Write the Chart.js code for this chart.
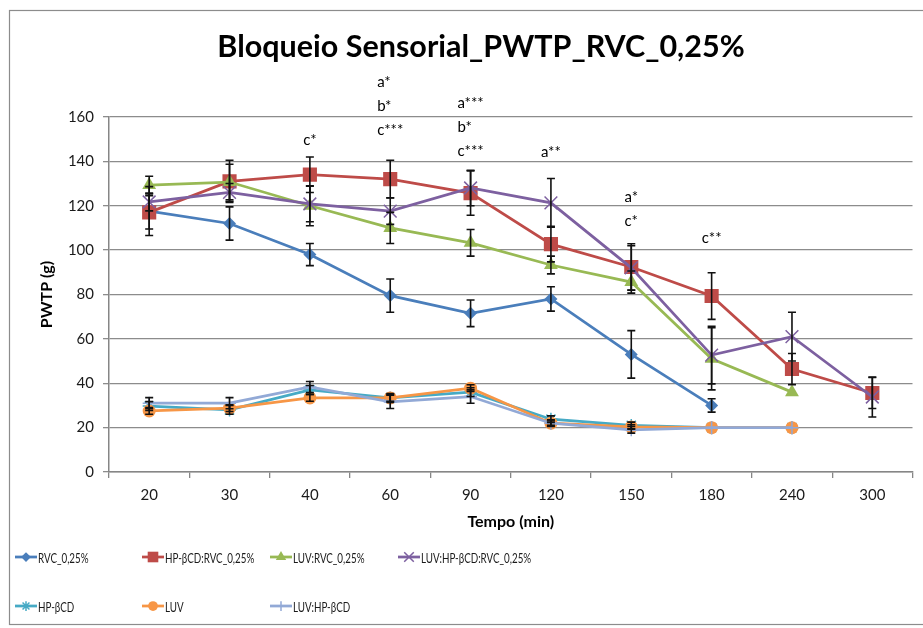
<!DOCTYPE html>
<html lang="pt">
<head>
<meta charset="UTF-8">
<title>Bloqueio Sensorial_PWTP_RVC_0,25%</title>
<script src="https://cdn.jsdelivr.net/npm/chart.js"></script>
<style>
  body { margin: 0; background: #fff; }
  #wrap { width: 923px; height: 628px; }
</style>
</head>
<body>
<div id="wrap"><canvas id="pwtpChart" width="923" height="628"></canvas></div>
<script>
    // categories (tempo, min)
    const tempos = ['20', '30', '40', '60', '90', '120', '150', '180', '240', '300'];

    // series names, in legend order
    const seriesNames = ['RVC_0,25%', 'HP-βCD:RVC_0,25%', 'LUV:RVC_0,25%', 'LUV:HP-βCD:RVC_0,25%', 'HP-βCD', 'LUV', 'LUV:HP-βCD'];

    // PWTP (g) means
    const rvc        = [117.6, 112, 98, 79.5, 71.5, 78, 53, 30, null, null];
    const hpRvc      = [117, 131, 134, 132, 125.7, 102.7, 92.4, 79.3, 46.4, 35.6];
    const luvRvc     = [129.3, 130.7, 120, 110, 103.3, 93.3, 85.6, 51, 36, null];
    const luvHpRvc   = [121.7, 126, 120.8, 117.6, 128, 121.3, 92, 52.7, 61, 33.8];
    const hp         = [29.7, 28, 37, 33.4, 36, 23.8, 21, 20, 20, null];
    const luv        = [27.5, 28.8, 33.4, 33.4, 37.8, 22, 20.3, 20, 20, null];
    const luvHp      = [31, 31, 38.3, 31.6, 34, 22, 19, 20, 20, null];

    // error bars (+/-)
    const rvcErr      = [11, 7.5, 5, 7.5, 6, 5.5, 10.7, 3, null, null];
    const hpRvcErr    = [7.5, 9.5, 8, 8.5, 10, 8, 10.5, 10.5, 7, 7];
    const luvRvcErr   = [4, 8, 9, 7, 6, 4, 5, 14, 0, null];
    const luvHpRvcErr = [4, 4, 8, 6, 8, 11, 10, 13, 11, 9];
    const hpErr       = [2, 2, 2, 2, 2, 1.5, 1.5, 0, 0, null];
    const luvErr      = [1.5, 1.5, 1.5, 1.5, 1.5, 1, 1, 0, 0, null];
    const luvHpErr    = [2.5, 2.5, 2.5, 3, 3, 1.5, 1.5, 0, 0, null];

    // significance labels above the points
    const annotCats  = ['40', '60', '90', '120', '150', '180'];
    const annotLines = [['c*'], ['a*', 'b*', 'c***'], ['a***', 'b*', 'c***'], ['a**'], ['a*', 'c*'], ['c**']];
    const annotBase  = [149.6, 154, 144.7, 144.2, 113, 105.5];

    // y axis ticks
    const yMin = 0, yMax = 160, yStep = 20;

    const values = [rvc, hpRvc, luvRvc, luvHpRvc, hp, luv, luvHp];
    const errors = [rvcErr, hpRvcErr, luvRvcErr, luvHpRvcErr, hpErr, luvErr, luvHpErr];

    const colors  = ['#4A7EBB', '#BE4B48', '#98B954', '#7D60A0', '#46AAC5', '#F79646', '#92A9D6'];
    const markers = ['rectRot', 'rect', 'triangle', 'crossRot', 'star', 'circle', 'cross'];
    const radii   = [6.5, 10, 8, 9, 6.5, 6.5, 6.5];

    const FONT = 'Lato, "Open Sans", sans-serif';
    Chart.defaults.font.family = FONT;
    Chart.defaults.color = '#1a1a1a';

    const datasets = seriesNames.map((name, i) => {
        const hollow = ['crossRot', 'star', 'cross'].includes(markers[i]);
        return {
            label: name,
            data: values[i],
            borderColor: colors[i],
            backgroundColor: colors[i],
            borderWidth: 2.75,
            pointStyle: markers[i],
            pointRadius: radii[i],
            pointBorderWidth: hollow ? 1.5 : 0,
            pointBackgroundColor: colors[i],
            pointBorderColor: colors[i],
            tension: 0,
            spanGaps: false,
            order: -i
        };
    });

    const extras = {
        id: 'extras',
        beforeDraw(chart) {
            const ctx = chart.ctx;
            ctx.save();
            ctx.fillStyle = '#fff';
            ctx.fillRect(0, 0, chart.width, chart.height);
            ctx.strokeStyle = '#8c8c8c';
            ctx.lineWidth = 1.2;
            ctx.strokeRect(9.5, 10.5, 1000, 614);
            ctx.restore();
        },
        afterDatasetsDraw(chart) {
            const ctx = chart.ctx;
            const x = chart.scales.x, y = chart.scales.y;
            ctx.save();
            ctx.strokeStyle = '#111';
            ctx.lineWidth = 1.6;
            values.forEach((vals, d) => {
                vals.forEach((v, i) => {
                    const e = errors[d][i];
                    if (v == null || !e) return;
                    const px = x.getPixelForValue(i);
                    const top = y.getPixelForValue(v + e);
                    const bot = y.getPixelForValue(v - e);
                    ctx.beginPath();
                    ctx.moveTo(px, top); ctx.lineTo(px, bot);
                    ctx.moveTo(px - 4, top); ctx.lineTo(px + 4, top);
                    ctx.moveTo(px - 4, bot); ctx.lineTo(px + 4, bot);
                    ctx.stroke();
                });
            });
            ctx.restore();
        },
        afterDraw(chart) {
            const ctx = chart.ctx;
            const x = chart.scales.x, y = chart.scales.y;
            ctx.save();

            // title
            ctx.fillStyle = '#000';
            ctx.font = 'bold 30.5px ' + FONT;
            ctx.textAlign = 'center';
            ctx.textBaseline = 'middle';
            ctx.fillText('Bloqueio Sensorial_PWTP_RVC_0,25%', 481, 47);

            // significance labels
            ctx.font = '15px ' + FONT;
            ctx.textAlign = 'left';
            annotCats.forEach((cat, k) => {
                const lines = annotLines[k];
                const px = x.getPixelForValue(tempos.indexOf(cat));
                const base = y.getPixelForValue(annotBase[k]);
                const w = Math.max(...lines.map(t => ctx.measureText(t).width));
                lines.forEach((t, j) => {
                    ctx.fillText(t, px - w / 2, base - (lines.length - 1 - j) * 24);
                });
            });

            // legend (text squeezed like the narrow original font)
            const cols = [15, 142, 270, 398];
            const rows = [557, 606];
            ctx.font = '14px ' + FONT;
            ctx.textBaseline = 'middle';
            seriesNames.forEach((name, i) => {
                const lx = cols[i % 4], ly = rows[Math.floor(i / 4)];
                ctx.strokeStyle = colors[i];
                ctx.fillStyle = colors[i];
                ctx.lineWidth = 2.75;
                ctx.beginPath();
                ctx.moveTo(lx, ly); ctx.lineTo(lx + 22, ly);
                ctx.stroke();
                const hollow = ['crossRot', 'star', 'cross'].includes(markers[i]);
                ctx.lineWidth = hollow ? 1.5 : 0.01;
                Chart.helpers.drawPoint(ctx, {
                    pointStyle: markers[i],
                    radius: radii[i] * 0.75,
                    borderWidth: hollow ? 1.5 : 0,
                    rotation: 0
                }, lx + 11, ly);
                ctx.fillStyle = '#1a1a1a';
                const tw = ctx.measureText(name).width;
                ctx.fillText(name, lx + 23, ly + 1, tw * 0.7);
            });
            ctx.restore();
        }
    };

    const ctx = document.getElementById('pwtpChart').getContext('2d');
    const pwtpChart = new Chart(ctx, {
        type: 'line',
        data: { labels: tempos, datasets: datasets },
        options: {
            responsive: false,
            animation: false,
            devicePixelRatio: 1,
            layout: { padding: { left: 0, right: 4, top: 117, bottom: 86 } },
            plugins: {
                legend: { display: false },
                title: { display: false },
                tooltip: { enabled: false }
            },
            scales: {
                x: {
                    offset: true,
                    grid: {
                        offset: true,
                        drawOnChartArea: false,
                        drawTicks: true,
                        tickLength: 6,
                        color: '#868686',
                        lineWidth: 1.3
                    },
                    border: { color: '#868686', width: 1.5 },
                    ticks: { font: { size: 15 }, padding: 8, maxRotation: 0 },
                    title: {
                        display: true,
                        text: 'Tempo (min)',
                        font: { size: 16, weight: 'bold' },
                        color: '#000',
                        padding: { top: 0, bottom: 10.4 }
                    },
                    afterFit(scale) { scale.height = 70; }
                },
                y: {
                    min: yMin,
                    max: yMax,
                    ticks: { stepSize: yStep, font: { size: 15 }, padding: 9 },
                    grid: {
                        color: '#8c8c8c',
                        lineWidth: 1.3,
                        tickLength: 6
                    },
                    border: { color: '#868686', width: 1.5 },
                    title: {
                        display: true,
                        text: 'PWTP (g)',
                        font: { size: 16, weight: 'bold' },
                        color: '#000',
                        padding: { top: 37.4, bottom: 0 }
                    },
                    afterFit(scale) { scale.width = 109; }
                }
            }
        },
        plugins: [extras]
    });
</script>
</body>
</html>
